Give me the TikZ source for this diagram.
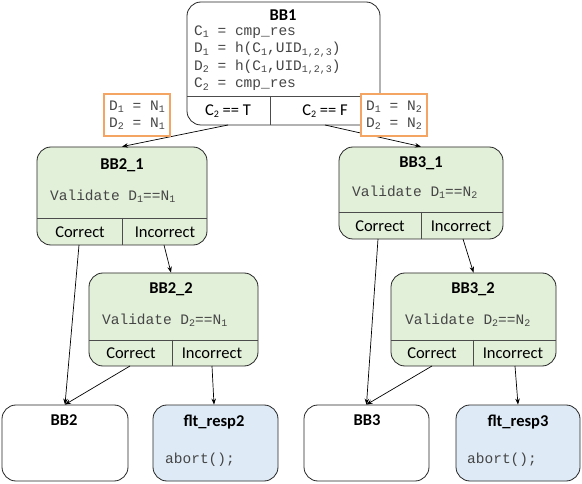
\documentclass[tikz,border=0pt]{standalone}
\usepackage{fontspec}
\setmainfont{Carlito}
\newfontfamily\monof{Liberation Mono}
\usetikzlibrary{arrows.meta}
\definecolor{bbgreen}{HTML}{E2EFD9}
\definecolor{bbblue}{HTML}{DEEBF7}
\definecolor{bborange}{RGB}{244,165,100}
\definecolor{monogray}{HTML}{454545}
\newcommand\sbs[1]{\raisebox{-0.3ex}{\fontsize{10}{10}\selectfont #1}}
\begin{document}
\begin{tikzpicture}[x=1pt,y=-1pt,
  bbox/.style={draw=black!85, line width=0.8pt, rounded corners=14pt, inner sep=0pt},
  greenbox/.style={bbox, fill=bbgreen},
  bluebox/.style={bbox, fill=bbblue},
  title/.style={font=\fontsize{16.5}{18}\selectfont\bfseries, inner sep=0pt},
  cell/.style={font=\fontsize{16.5}{18}\selectfont, inner sep=0pt},
  code/.style={font=\monof\fontsize{14.5}{17}\selectfont, text=monogray, inner sep=0pt},
  div/.style={draw=black!70, line width=0.6pt},
  arr/.style={-{Stealth[length=6pt,width=4.5pt]}, line width=0.7pt},
  obox/.style={draw=bborange, line width=1.2pt, fill=white, font=\monof\fontsize{14.5}{17}\selectfont, text=monogray,
     minimum width=66pt, minimum height=42pt, align=left, inner sep=0pt}
]
\useasboundingbox (0,0) rectangle (582,484);

% ---------- BB1 ----------
\node[bbox, fill=white, minimum width=193pt, minimum height=123pt] (bb1) at (283.5,63.5) {};
\draw[div] (187,96) -- (380,96);
\draw[div] (270,96) -- (270,125);
\node[title] (bb1t) at (283,15.5) {BB1};
\node[code, anchor=west] (bb1l1) at (194,32) {C\sbs{1} = cmp\_res};
\node[code, anchor=west] (bb1l2) at (194,49.5) {D\sbs{1} = h(C\sbs{1},UID\sbs{1,2,3})};
\node[code, anchor=west] (bb1l3) at (194,67) {D\sbs{2} = h(C\sbs{1},UID\sbs{1,2,3})};
\node[code, anchor=west] (bb1l4) at (194,84.5) {C\sbs{2} = cmp\_res};
\node[cell] (bb1T) at (228,111) {C\sbs{2} == T};
\node[cell] (bb1F) at (325,111) {C\sbs{2} == F};
\coordinate (bb1Tb) at (228,125);
\coordinate (bb1Fb) at (325,125);

% ---------- BB2_1 ----------
\node[greenbox, minimum width=170pt, minimum height=98pt] (bb21) at (122,196) {};
\draw[div] (37,218) -- (207,218);
\draw[div] (122,218) -- (122,245);
\node[title] (bb21t) at (122,165) {BB2\_1};
\node[code, anchor=west] (bb21v) at (50,196) {Validate D\sbs{1}==N\sbs{1}};
\node[cell] (bb21c) at (80,232) {Correct};
\node[cell] (bb21i) at (165,232) {Incorrect};
\coordinate (bb21cb) at (79,245);
\coordinate (bb21ib) at (164,245);

% ---------- BB3_1 ----------
\node[greenbox, minimum width=164pt, minimum height=92pt] (bb31) at (421,193) {};
\draw[div] (339,212) -- (503,212);
\draw[div] (421,212) -- (421,239);
\node[title] (bb31t) at (421,163) {BB3\_1};
\node[code, anchor=west] (bb31v) at (352,192) {Validate D\sbs{1}==N\sbs{2}};
\node[cell] (bb31c) at (380,226) {Correct};
\node[cell] (bb31i) at (461,226) {Incorrect};
\coordinate (bb31cb) at (378,239);
\coordinate (bb31ib) at (463,239);

% ---------- BB2_2 ----------
\node[greenbox, minimum width=169pt, minimum height=93pt] (bb22) at (173.5,319.5) {};
\draw[div] (89,340) -- (258,340);
\draw[div] (172,340) -- (172,366);
\node[title] (bb22t) at (171,289) {BB2\_2};
\node[code, anchor=west] (bb22v) at (102,320) {Validate D\sbs{2}==N\sbs{1}};
\node[cell] (bb22c) at (131,353) {Correct};
\node[cell] (bb22i) at (212,353) {Incorrect};
\coordinate (bb22cb) at (130,366);
\coordinate (bb22ib) at (212,366);

% ---------- BB3_2 ----------
\node[greenbox, minimum width=165pt, minimum height=93pt] (bb32) at (473.5,319.5) {};
\draw[div] (391,340) -- (556,340);
\draw[div] (473,340) -- (473,366);
\node[title] (bb32t) at (473,289) {BB3\_2};
\node[code, anchor=west] (bb32v) at (405,320) {Validate D\sbs{2}==N\sbs{2}};
\node[cell] (bb32c) at (432,353) {Correct};
\node[cell] (bb32i) at (513,353) {Incorrect};
\coordinate (bb32cb) at (432,366);
\coordinate (bb32ib) at (515,366);

% ---------- bottom boxes ----------
\node[bbox, fill=white, minimum width=126pt, minimum height=76pt] (bb2) at (65,443) {};
\node[title] (bb2t) at (64,420) {BB2};
\node[bluebox, minimum width=125pt, minimum height=76pt] (fr2) at (215.5,443) {};
\node[title] (fr2t) at (214,422) {flt\_resp2};
\node[code, anchor=west] (fr2a) at (165,460) {abort();};

\node[bbox, fill=white, minimum width=125pt, minimum height=76pt] (bb3) at (366.5,443) {};
\node[title] (bb3t) at (367,420) {BB3};
\node[bluebox, minimum width=124pt, minimum height=76pt] (fr3) at (518,443) {};
\node[title] (fr3t) at (518,422) {flt\_resp3};
\node[code, anchor=west] (fr3a) at (467,460) {abort();};

% ---------- connectors ----------
\draw[arr] (bb1Tb) -- (bb21.north);
\draw[arr] (bb1Fb) -- (bb31.north);
\draw[arr] (bb21cb) -- (bb2.north);
\draw[arr] (bb21ib) -- (bb22.north -| 171,0);
\draw[arr] (bb22cb) -- (bb2.north);
\draw[arr] (bb22ib) -- (fr2.north -| 214,0);
\draw[arr] (bb31cb) -- (bb3.north);
\draw[arr] (bb31ib) -- (bb32.north);
\draw[arr] (bb32cb) -- (bb3.north);
\draw[arr] (bb32ib) -- (fr3.north);

% ---------- orange annotations (on top) ----------
\node[obox] (o1) at (137,115) {D\sbs{1} = N\sbs{1}\\D\sbs{2} = N\sbs{1}};
\node[obox] (o2) at (394,115) {D\sbs{1} = N\sbs{2}\\D\sbs{2} = N\sbs{2}};
\end{tikzpicture}
\end{document}
